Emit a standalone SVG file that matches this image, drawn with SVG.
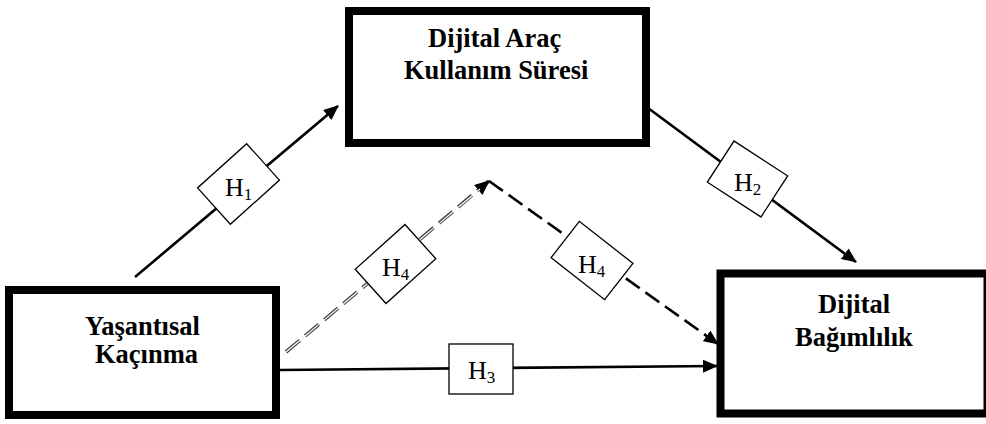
<svg xmlns="http://www.w3.org/2000/svg" width="986" height="424" viewBox="0 0 986 424">
  <rect width="986" height="424" fill="#fff"/>
  <defs>
    <marker id="arrow" markerUnits="userSpaceOnUse" markerWidth="16" markerHeight="14" refX="14" refY="6.5" orient="auto">
      <path d="M0,0 L15,6.5 L0,13 z" fill="#000"/>
    </marker>
  </defs>

  <g id="connectors" fill="none">
    <path stroke="#000" stroke-width="2.6" d="M135,277 L338,106" marker-end="url(#arrow)"/>
    <path stroke="#000" stroke-width="2.6" d="M648,108 L856,262" marker-end="url(#arrow)"/>
    <path stroke="#000" stroke-width="2.6" d="M280,370 L717,366" marker-end="url(#arrow)"/>
    <path stroke="#444" stroke-width="3.6" stroke-dasharray="18 7" d="M286,352 L489,181" marker-end="url(#arrow)"/>
    <path stroke="#fff" stroke-width="1.2" stroke-dasharray="18 7" d="M286,352 L480,189"/>
    <path stroke="#000" stroke-width="2.6" stroke-dasharray="17 7" d="M489,181 L718,344" marker-end="url(#arrow)"/>
  </g>

  <g id="label-h1">
    <rect fill="#fff" stroke="#000" stroke-width="1.3" x="-33" y="-24.5" width="66" height="49" transform="translate(238.5,184) rotate(-42)"/>
    <text font-family="Times New Roman" font-size="26" x="225" y="196">H<tspan font-size="17" dy="4">1</tspan></text>
  </g>
  <g id="label-h2">
    <rect fill="#fff" stroke="#000" stroke-width="1.3" x="-32" y="-24.5" width="64" height="49" transform="translate(747.5,179) rotate(33)"/>
    <text font-family="Times New Roman" font-size="26" x="734" y="191">H<tspan font-size="17" dy="4">2</tspan></text>
  </g>
  <g id="label-h3">
    <rect fill="#fff" stroke="#000" stroke-width="1.3" x="449" y="344" width="64" height="50"/>
    <text font-family="Times New Roman" font-size="26" x="468" y="379">H<tspan font-size="17" dy="4">3</tspan></text>
  </g>
  <g id="label-h4a">
    <rect fill="#fff" stroke="#000" stroke-width="1.3" x="-33.5" y="-23" width="67" height="46" transform="translate(395.5,264) rotate(-42)"/>
    <text font-family="Times New Roman" font-size="26" x="382" y="276">H<tspan font-size="17" dy="4">4</tspan></text>
  </g>
  <g id="label-h4b">
    <rect fill="#fff" stroke="#000" stroke-width="1.3" x="-34" y="-23" width="68" height="46" transform="translate(592,260.5) rotate(38)"/>
    <text font-family="Times New Roman" font-size="26" x="578" y="273">H<tspan font-size="17" dy="4">4</tspan></text>
  </g>

  <g id="node-arac">
    <rect fill="#fff" stroke="#000" stroke-width="8" x="349" y="11" width="297" height="132"/>
    <text font-family="Times New Roman" font-weight="bold" font-size="26.5" x="428" y="47">Dijital Araç</text>
    <text font-family="Times New Roman" font-weight="bold" font-size="26.5" x="404" y="79">Kullanım Süresi</text>
  </g>
  <g id="node-kacinma">
    <rect fill="#fff" stroke="#000" stroke-width="8" x="9" y="290" width="267" height="125"/>
    <text font-family="Times New Roman" font-weight="bold" font-size="26.5" x="85" y="335">Yaşantısal</text>
    <text font-family="Times New Roman" font-weight="bold" font-size="26.5" x="95" y="363">Kaçınma</text>
  </g>
  <g id="node-bagimlilik">
    <rect fill="#fff" stroke="#000" stroke-width="8" x="720.5" y="273.5" width="267" height="140"/>
    <text font-family="Times New Roman" font-weight="bold" font-size="26.5" x="818" y="313">Dijital</text>
    <text font-family="Times New Roman" font-weight="bold" font-size="26.5" x="795" y="346">Bağımlılık</text>
  </g>
</svg>
